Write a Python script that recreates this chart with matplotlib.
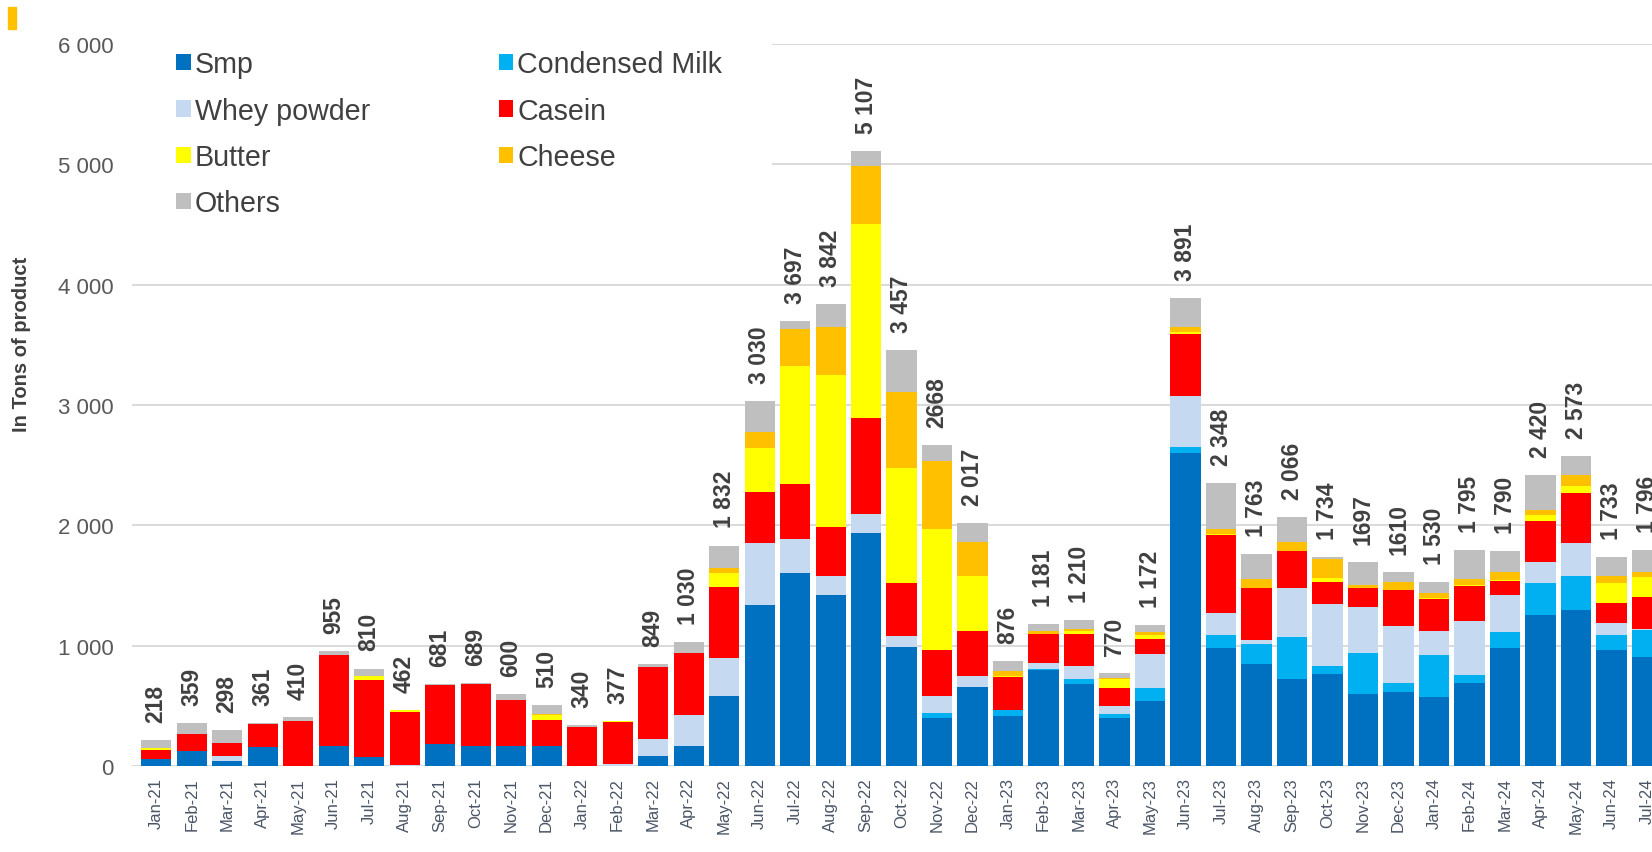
import matplotlib
matplotlib.use("Agg")
import matplotlib.pyplot as plt
from matplotlib.patches import Rectangle
import numpy as np

plt.rcParams['font.family'] = ['Liberation Sans', 'DejaVu Sans']

months = ["Jan-21", "Feb-21", "Mar-21", "Apr-21", "May-21", "Jun-21", "Jul-21", "Aug-21",
          "Sep-21", "Oct-21", "Nov-21", "Dec-21", "Jan-22", "Feb-22", "Mar-22", "Apr-22",
          "May-22", "Jun-22", "Jul-22", "Aug-22", "Sep-22", "Oct-22", "Nov-22", "Dec-22",
          "Jan-23", "Feb-23", "Mar-23", "Apr-23", "May-23", "Jun-23", "Jul-23", "Aug-23",
          "Sep-23", "Oct-23", "Nov-23", "Dec-23", "Jan-24", "Feb-24", "Mar-24", "Apr-24",
          "May-24", "Jun-24", "Jul-24"]

smp = [60, 125, 45, 155, 0, 165, 75, 0, 185, 168, 165, 165, 0, 0, 80, 165,
       585, 1340, 1600, 1417, 1933, 993, 400, 655, 417, 795, 680, 395, 542, 2605,
       980, 850, 726, 762, 601, 615, 575, 686, 981, 1258, 1297, 964, 908]
condensed = [0, 0, 0, 0, 0, 0, 0, 0, 0, 0, 0, 0, 0, 0, 0, 0,
             0, 0, 0, 0, 0, 0, 40, 0, 50, 15, 42, 36, 105, 50,
             110, 167, 346, 69, 341, 78, 350, 72, 130, 261, 278, 125, 223]
whey = [0, 0, 40, 0, 0, 0, 0, 10, 0, 0, 0, 0, 0, 20, 145, 260,
        315, 510, 290, 166, 160, 90, 143, 90, 0, 50, 111, 70, 284, 420,
        185, 30, 404, 518, 379, 470, 194, 445, 306, 175, 278, 97, 5]
casein = [75, 145, 110, 190, 375, 760, 640, 437, 490, 515, 380, 215, 325, 345, 600, 510,
          590, 427, 450, 400, 797, 434, 377, 375, 275, 237, 264, 147, 125, 518,
          645, 429, 311, 183, 155, 297, 270, 289, 119, 342, 416, 167, 272]
butter = [15, 0, 0, 0, 0, 0, 35, 15, 0, 0, 0, 45, 0, 12, 0, 0,
          117, 366, 987, 1267, 1617, 956, 1007, 458, 10, 0, 25, 75, 33, 10,
          12, 0, 0, 33, 5, 5, 10, 15, 10, 47, 56, 166, 161]
cheese = [0, 0, 0, 0, 0, 0, 0, 0, 0, 0, 0, 10, 0, 0, 0, 0,
          40, 134, 306, 400, 476, 634, 566, 280, 40, 22, 15, 12, 22, 48,
          35, 75, 77, 152, 23, 67, 37, 49, 65, 48, 92, 56, 42]
others = [68, 89, 103, 16, 35, 30, 60, 0, 6, 6, 55, 75, 15, 0, 24, 95,
          185, 253, 64, 192, 124, 350, 135, 159, 84, 62, 73, 35, 61, 240,
          381, 212, 202, 17, 193, 78, 94, 239, 179, 289, 156, 158, 185]

total_labels = ["218", "359", "298", "361", "410", "955", "810", "462", "681", "689", "600",
                "510", "340", "377", "849", "1 030", "1 832", "3 030", "3 697", "3 842",
                "5 107", "3 457", "2668", "2 017", "876", "1 181", "1 210", "770", "1 172",
                "3 891", "2 348", "1 763", "2 066", "1 734", "1697", "1610", "1 530",
                "1 795", "1 790", "2 420", "2 573", "1 733", "1 796"]

series = [("Smp", smp, "#0070C0"),
          ("Condensed Milk", condensed, "#00B0F0"),
          ("Whey powder", whey, "#C5D9F1"),
          ("Casein", casein, "#FF0000"),
          ("Butter", butter, "#FFFF00"),
          ("Cheese", cheese, "#FFC000"),
          ("Others", others, "#BFBFBF")]

W, H = 1652, 853
fig = plt.figure(figsize=(W / 100, H / 100), dpi=100)
ax = fig.add_axes([132 / W, (H - 767) / H, 1 - 132 / W, (767 - 45) / H])

x = np.arange(len(months))
bottom = np.zeros(len(months))
handles = {}
for name, vals, col in series:
    v = np.array(vals, dtype=float)
    b = ax.bar(x, v, width=0.85, bottom=bottom, color=col, label=name, zorder=2)
    handles[name] = b
    bottom += v

for xi, top, lab in zip(x, bottom, total_labels):
    ax.annotate(lab, (xi, top), xytext=(0, 13), textcoords="offset points",
                rotation=90, ha="center", va="bottom", fontsize=16.5,
                fontweight="bold", color="#404040", annotation_clip=False)

ax.set_xlim(-0.68, 42.14)
ax.set_ylim(0, 6000)
ax.set_yticks(range(0, 6001, 1000))
ax.set_yticklabels(["0", "1 000", "2 000", "3 000", "4 000", "5 000", "6 000"],
                   fontsize=16, color="#595959")
ax.set_xticks(x)
ax.set_xticklabels(months, rotation=90, fontsize=12, color="#4a5566")
ax.tick_params(axis="both", length=0)
ax.tick_params(axis="y", pad=13)
ax.tick_params(axis="x", pad=8)
for s in ax.spines.values():
    s.set_visible(False)
ax.yaxis.grid(True, color="#d9d9d9", linewidth=1.4, zorder=0)
ax.set_axisbelow(True)

fig.text(22 / W, 1 - 344 / H, "In Tons of product", rotation=90, ha="center",
         va="center", fontsize=14.5, fontweight="bold", color="#404040")

order = ["Smp", "Whey powder", "Butter", "Others", "Condensed Milk", "Casein", "Cheese"]
leg = ax.legend([handles[n] for n in order], order, ncol=2, loc="upper left",
                bbox_to_anchor=(127 / W, 1 - 2 / H), bbox_transform=fig.transFigure,
                fontsize=20.6, frameon=True, borderaxespad=0, borderpad=1.72,
                handlelength=0.5, handleheight=0.5, handletextpad=0.15,
                labelspacing=0.64, columnspacing=4.5)
leg.get_frame().set_facecolor("white")
leg.get_frame().set_edgecolor("none")
leg.get_frame().set_alpha(1)
leg.get_frame().set_boxstyle("square", pad=0)
for t in leg.get_texts():
    t.set_color("#404040")

fig.patches.append(Rectangle((8 / W, 1 - 30 / H), 8 / W, 22 / H,
                             transform=fig.transFigure, color="#FFC000"))

fig.savefig("out.png", dpi=100)
